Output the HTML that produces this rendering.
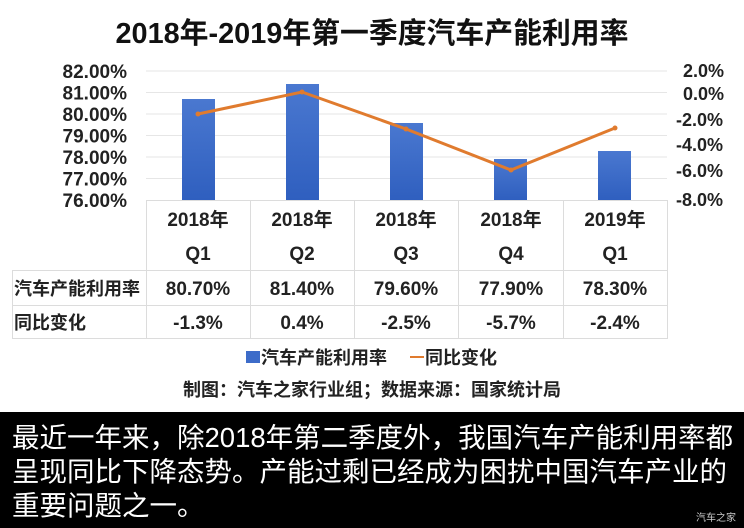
<!DOCTYPE html>
<html><head><meta charset="utf-8"><style>
body{margin:0;background:#fff;}
svg{display:block;font-family:"Liberation Sans","Noto Sans CJK SC",sans-serif;}
</style></head><body>
<svg width="744" height="528" viewBox="0 0 744 528" xmlns="http://www.w3.org/2000/svg">
<defs><linearGradient id="g" x1="0" y1="0" x2="0" y2="1"><stop offset="0" stop-color="#4a78d0"/><stop offset="1" stop-color="#2f5fbf"/></linearGradient></defs>
<rect width="744" height="528" fill="#fff"/>
<text x="372" y="43" text-anchor="middle" font-size="29" font-weight="bold" fill="#111" textLength="513" lengthAdjust="spacingAndGlyphs">2018年-2019年第一季度汽车产能利用率</text>
<g stroke="#e6e6e6" stroke-width="1">
<line x1="146" x2="667" y1="71" y2="71"/><line x1="146" x2="667" y1="92.5" y2="92.5"/><line x1="146" x2="667" y1="114" y2="114"/><line x1="146" x2="667" y1="135.5" y2="135.5"/><line x1="146" x2="667" y1="157" y2="157"/><line x1="146" x2="667" y1="178.5" y2="178.5"/>
</g>
<g font-size="19" font-weight="bold" fill="#222" text-anchor="end">
<text x="127" y="78">82.00%</text><text x="127" y="99.5">81.00%</text><text x="127" y="121">80.00%</text><text x="127" y="142.5">79.00%</text><text x="127" y="164">78.00%</text><text x="127" y="185.5">77.00%</text><text x="127" y="207">76.00%</text>
</g>
<g font-size="18" font-weight="bold" fill="#222">
<text x="683" y="77">2.0%</text><text x="683" y="100">0.0%</text><text x="676" y="126">-2.0%</text><text x="676" y="151">-4.0%</text><text x="676" y="177">-6.0%</text><text x="676" y="206">-8.0%</text>
</g>
<g fill="url(#g)">
<rect x="182" y="99" width="33" height="101"/><rect x="286" y="84" width="33" height="116"/><rect x="390" y="123" width="33" height="77"/><rect x="494" y="159" width="33" height="41"/><rect x="598" y="151" width="33" height="49"/>
</g>
<polyline points="198,114 302,92 406,129 511,170 615,128" fill="none" stroke="#e07b2e" stroke-width="3"/>
<g fill="#e07b2e"><circle cx="198" cy="114" r="2.5"/><circle cx="302" cy="92" r="2.5"/><circle cx="406" cy="129" r="2.5"/><circle cx="511" cy="170" r="2.5"/><circle cx="615" cy="128" r="2.5"/></g>
<g stroke="#dcdcdc" stroke-width="1" fill="none">
<line x1="146" x2="667" y1="200.5" y2="200.5"/><line x1="12" x2="667" y1="270.5" y2="270.5"/><line x1="12" x2="667" y1="305.5" y2="305.5"/><line x1="12" x2="667" y1="338.5" y2="338.5"/>
<line x1="146.5" x2="146.5" y1="200" y2="339"/><line x1="250.5" x2="250.5" y1="200" y2="339"/><line x1="354.5" x2="354.5" y1="200" y2="339"/><line x1="458.5" x2="458.5" y1="200" y2="339"/><line x1="563.5" x2="563.5" y1="200" y2="339"/><line x1="667.5" x2="667.5" y1="200" y2="339"/><line x1="12.5" x2="12.5" y1="270" y2="339"/>
</g>
<g font-size="19" font-weight="bold" fill="#222" text-anchor="middle">
<text x="198" y="226">2018年</text><text x="302" y="226">2018年</text><text x="406" y="226">2018年</text><text x="511" y="226">2018年</text><text x="615" y="226">2019年</text>
<text x="198" y="260">Q1</text><text x="302" y="260">Q2</text><text x="406" y="260">Q3</text><text x="511" y="260">Q4</text><text x="615" y="260">Q1</text>
<text x="198" y="295">80.70%</text><text x="302" y="295">81.40%</text><text x="406" y="295">79.60%</text><text x="511" y="295">77.90%</text><text x="615" y="295">78.30%</text>
<text x="198" y="329">-1.3%</text><text x="302" y="329">0.4%</text><text x="406" y="329">-2.5%</text><text x="511" y="329">-5.7%</text><text x="615" y="329">-2.4%</text>
</g>
<g font-size="18" font-weight="bold" fill="#222">
<text x="14" y="295">汽车产能利用率</text><text x="14" y="329">同比变化</text>
</g>
<rect x="246" y="351" width="14" height="12" fill="#3d6cc9"/>
<text x="261" y="364" font-size="18" font-weight="bold" fill="#222">汽车产能利用率</text>
<line x1="410" x2="424" y1="357" y2="357" stroke="#e07b2e" stroke-width="2"/>
<text x="425" y="364" font-size="18" font-weight="bold" fill="#222">同比变化</text>
<text x="372" y="396" text-anchor="middle" font-size="18" font-weight="bold" fill="#222">制图：汽车之家行业组；数据来源：国家统计局</text>
<rect x="0" y="412" width="744" height="116" fill="#000"/>
<g font-size="27.5" fill="#fff">
<text x="12" y="447">最近一年来，除2018年第二季度外，我国汽车产能利用率都</text>
<text x="12" y="481">呈现同比下降态势。产能过剩已经成为困扰中国汽车产业的</text>
<text x="12" y="515">重要问题之一。</text>
</g>
<text x="736" y="521" text-anchor="end" font-size="10" fill="#ccc">汽车之家</text>
</svg>
</body></html>
